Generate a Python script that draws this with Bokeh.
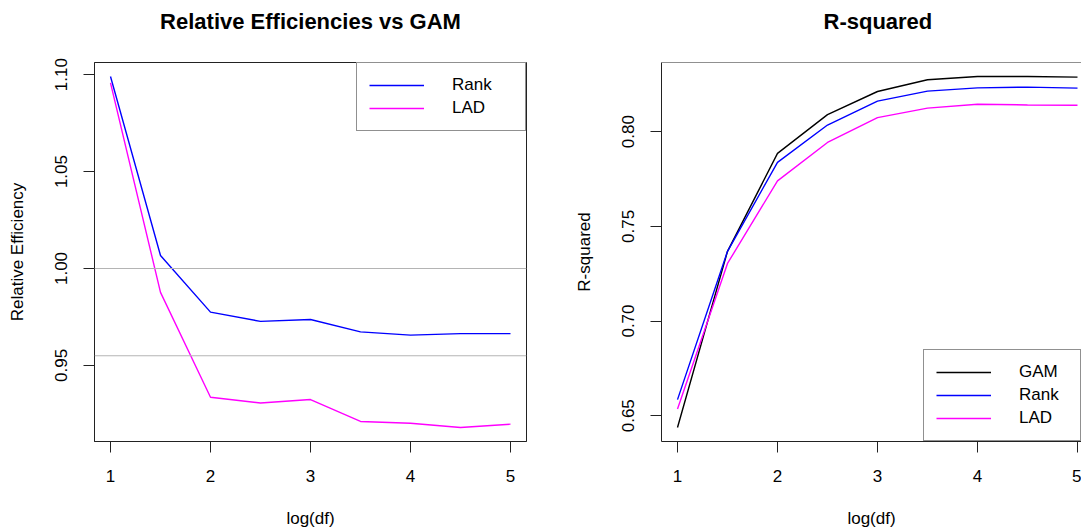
from bokeh.plotting import figure
from bokeh.layouts import row
from bokeh.models import Range1d, FixedTicker, Span, Legend, LegendItem, NumeralTickFormatter
from bokeh.embed import file_html
from bokeh.resources import INLINE

# ---- data ----
log_df = [1.0, 1.5, 2.0, 2.5, 3.0, 3.5, 4.0, 4.5, 5.0]
re_rank = [1.099, 1.0067, 0.9775, 0.9727, 0.9737, 0.9673, 0.9656, 0.9664, 0.9664]
re_lad = [1.0957, 0.9877, 0.9336, 0.9306, 0.9324, 0.9211, 0.9202, 0.9180, 0.9197]
ref_lines = [1.00, 0.955]
r2_gam = [0.6438, 0.7368, 0.7885, 0.8090, 0.8212, 0.8274, 0.8291, 0.8291, 0.8288]
r2_rank = [0.6585, 0.7368, 0.7838, 0.8035, 0.8161, 0.8214, 0.8231, 0.8235, 0.8230]
r2_lad = [0.6535, 0.7304, 0.7740, 0.7943, 0.8074, 0.8124, 0.8145, 0.8141, 0.8139]
x_ticks = [1, 2, 3, 4, 5]
re_ticks = [0.95, 1.00, 1.05, 1.10]
r2_ticks = [0.65, 0.70, 0.75, 0.80]

FONT = "Liberation Sans"
FS = "17px"
BLUE = "#0000FF"
MAGENTA = "#FF00FF"
BOX = "#222222"


def r_range(vals):
    lo, hi = min(vals), max(vals)
    d = (hi - lo) * 0.04
    return lo - d, hi + d


def style(p, title, ylab, yticks):
    # trailing empty line lifts the title line higher above the frame
    p.title.text = title + "\n"
    p.title.text_font = FONT
    p.title.text_font_size = "22px"
    p.title.text_font_style = "bold"
    p.title.text_color = "black"
    p.title.standoff = 8
    p.xgrid.visible = False
    p.ygrid.visible = False
    for ax in (p.xaxis[0], p.yaxis[0]):
        ax.major_label_text_font = FONT
        ax.major_label_text_font_size = FS
        ax.major_label_text_color = "black"
        ax.axis_label_text_font = FONT
        ax.axis_label_text_font_size = FS
        ax.axis_label_text_font_style = "normal"
        ax.axis_label_text_color = "black"
        ax.major_tick_in = 0
        ax.major_tick_out = 11
        ax.minor_tick_line_color = None
        ax.major_tick_line_color = BOX
        ax.axis_line_color = BOX
    p.xaxis[0].ticker = FixedTicker(ticks=x_ticks)
    p.xaxis[0].axis_label = "log(df)"
    p.xaxis[0].major_label_standoff = 17
    p.xaxis[0].axis_label_standoff = 24
    p.yaxis[0].ticker = FixedTicker(ticks=yticks)
    p.yaxis[0].formatter = NumeralTickFormatter(format="0.00")
    p.yaxis[0].axis_label = ylab
    p.yaxis[0].major_label_orientation = "vertical"
    p.yaxis[0].major_label_standoff = 16
    p.yaxis[0].axis_label_standoff = 26
    p.background_fill_color = "white"
    p.border_fill_color = "white"


# ---- left panel ----
y0, y1 = r_range(re_rank + re_lad)
p1 = figure(width=560, height=531, output_backend="svg", toolbar_location=None,
            x_range=Range1d(0.84, 5.16), y_range=Range1d(y0, y1),
            min_border_left=94, min_border_right=34, min_border_top=62, min_border_bottom=90)
style(p1, "Relative Efficiencies vs GAM", "Relative Efficiency", re_ticks)
p1.title.align = "center"
p1.outline_line_color = BOX
p1.outline_line_width = 1
for h in ref_lines:
    p1.add_layout(Span(location=h, dimension="width", line_color="#b4b4b4", line_width=1.2))
l_rank = p1.line(log_df, re_rank, line_color=BLUE, line_width=1.4)
l_lad = p1.line(log_df, re_lad, line_color=MAGENTA, line_width=1.4)
leg1 = Legend(items=[LegendItem(label="Rank", renderers=[l_rank]),
                     LegendItem(label="LAD", renderers=[l_lad])],
              location="top_right", margin=0, padding=12, spacing=3,
              glyph_width=55, glyph_height=16, label_height=16, label_width=61,
              label_standoff=28, label_text_font=FONT, label_text_font_size=FS,
              label_text_color="black",
              border_line_color=BOX, border_line_width=1, background_fill_alpha=1)
p1.add_layout(leg1)

# ---- right panel ----
z0, z1 = r_range(r2_gam + r2_rank + r2_lad)
p2 = figure(width=521, height=531, output_backend="svg", toolbar_location=None,
            x_range=Range1d(0.84, 5.04), y_range=Range1d(z0, z1),
            min_border_left=101, min_border_right=0, min_border_top=62, min_border_bottom=90)
style(p2, "R-squared", "R-squared", r2_ticks)
p2.title.align = "left"
p2.title.offset = 162
p2.outline_line_color = None
p2.add_layout(Span(location=z1, dimension="width", line_color=BOX, line_width=1))
g_gam = p2.line(log_df, r2_gam, line_color="black", line_width=1.4)
g_rank = p2.line(log_df, r2_rank, line_color=BLUE, line_width=1.4)
g_lad = p2.line(log_df, r2_lad, line_color=MAGENTA, line_width=1.4)
leg2 = Legend(items=[LegendItem(label="GAM", renderers=[g_gam]),
                     LegendItem(label="Rank", renderers=[g_rank]),
                     LegendItem(label="LAD", renderers=[g_lad])],
              location="bottom_right", margin=0, padding=12, spacing=3,
              glyph_width=55, glyph_height=16, label_height=16, label_width=49,
              label_standoff=28, label_text_font=FONT, label_text_font_size=FS,
              label_text_color="black",
              border_line_color=BOX, border_line_width=1, background_fill_alpha=1)
p2.add_layout(leg2)

layout = row(p1, p2)
open("out.html", "w").write(file_html(layout, INLINE))
